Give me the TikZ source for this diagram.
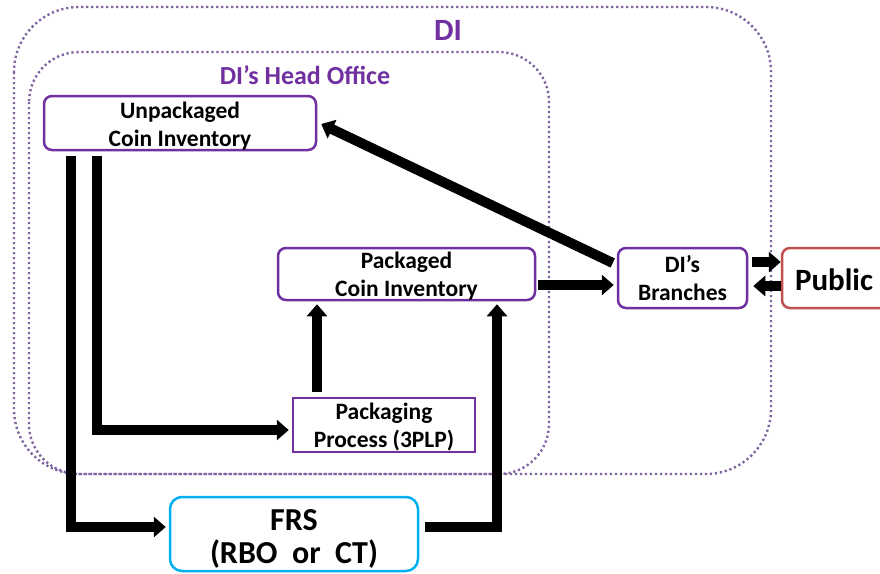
\documentclass[tikz,border=0pt]{standalone}
\usepackage{fontspec}
\setmainfont{Carlito}
\usetikzlibrary{arrows.meta,calc}
\definecolor{dipurple}{HTML}{7030A0}
\definecolor{dotpurple}{HTML}{8064A2}
\definecolor{pubred}{HTML}{C0504D}
\definecolor{frscyan}{HTML}{00B0F0}
\tikzset{
  x=1pt, y=-1pt,
  dotbox/.style={draw=dotpurple, line width=2.4pt, dash pattern=on 2.2pt off 2.8pt},
  invbox/.style={draw=dipurple, line width=2.5pt, rounded corners=8pt, inner sep=0pt},
  boxtxt/.style={align=center, inner sep=0pt, font=\bfseries\fontsize{23.5}{28}\selectfont},
  flow/.style={line width=10pt, line join=miter, line cap=butt,
    -{Triangle[width=20pt,length=12pt]}},
}
\begin{document}
\begin{tikzpicture}
\useasboundingbox (0,0) rectangle (880,573);
\clip (0,0) rectangle (880,573);
\fill[white] (0,0) rectangle (880,573);

% containers
\draw[dotbox, rounded corners=65pt] (14,7) rectangle (771,474);
\draw[dotbox, rounded corners=50pt] (29,52) rectangle (549,474);
\node[text=dipurple, font=\bfseries\fontsize{31}{36}\selectfont] (dilbl) at (448,30) {DI};
\node[text=dipurple, font=\bfseries\fontsize{26}{30}\selectfont] (holbl) at (305,75) {DI’s Head Office};

% boxes
\node[invbox, minimum width=272pt, minimum height=54pt] (unp) at (180,123) {};
\node[invbox, minimum width=257pt, minimum height=52pt] (pci) at (406.5,274) {};
\node[invbox, rounded corners=0pt, minimum width=182pt, minimum height=54pt] (pkg) at (384,425) {};
\node[invbox, minimum width=129pt, minimum height=60pt] (br) at (682.5,278) {};
\node[invbox, draw=pubred, minimum width=118pt, minimum height=60pt] (pub) at (841,278) {};
\node[invbox, draw=frscyan, rounded corners=12pt, minimum width=248pt, minimum height=74pt] (frs) at (294,534) {};

% box texts
\node[boxtxt] (unptxt) at ([yshift=-3pt]unp.center) {Unpackaged\\Coin Inventory};
\node[boxtxt] (pcitxt) at ([yshift=-2.5pt]pci.center) {Packaged\\Coin Inventory};
\node[boxtxt] (pkgtxt) at ([yshift=-2pt]pkg.center) {Packaging\\Process (3PLP)};
\node[boxtxt] (brtxt) at (br.center) {DI’s\\Branches};
\node[boxtxt, font=\bfseries\fontsize{31}{34}\selectfont] (pubtxt) at ([xshift=-7pt,yshift=-2pt]pub.center) {Public};
\node[boxtxt, font=\bfseries\fontsize{32}{33}\selectfont] (frstxt) at ([yshift=-5pt]frs.center) {FRS\\(RBO~~or~~CT)};

% flows
\draw[flow] ([xshift=-109.5pt,yshift=-5pt]unp.south) |- ([xshift=-3pt,yshift=7pt]frs.west);
\draw[flow] ([xshift=-83pt,yshift=-5pt]unp.south) |- ([xshift=-3pt,yshift=-5pt]pkg.west);
\draw[flow] ([xshift=-67pt,yshift=5pt]pkg.north) -- ([xshift=-67pt,yshift=-3pt]pkg.north |- pci.south);
\draw[flow] ([xshift=6pt,yshift=7pt]frs.east) -| ([xshift=90.5pt,yshift=-3pt]pci.south);
\draw[flow] ([xshift=2pt,yshift=-11pt]pci.east) -- ([xshift=-3pt,yshift=-7pt]br.west);
\draw[flow] ([xshift=-4pt,yshift=15pt]br.west) -- ([xshift=4pt,yshift=-1pt]unp.east);
\draw[flow] ([xshift=4pt,yshift=16pt]br.east) -- ([yshift=16pt]pub.west);
\draw[flow] ([yshift=-8pt]pub.west) -- ([xshift=5pt,yshift=-8pt]br.east);
\end{tikzpicture}
\end{document}
